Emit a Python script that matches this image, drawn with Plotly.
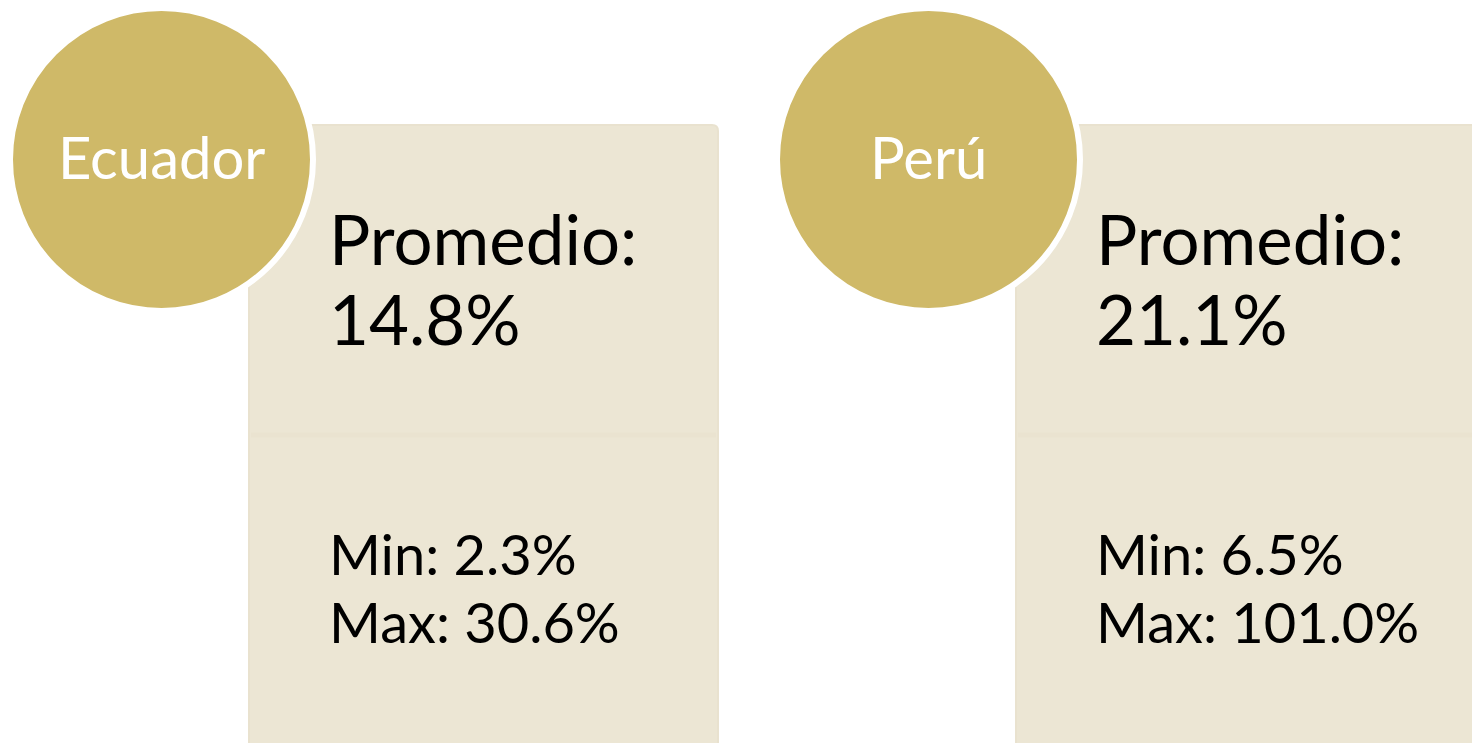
import plotly.graph_objects as go

countries = ["Ecuador", "Perú"]
promedio = ["14.8%", "21.1%"]
minimo = ["2.3%", "6.5%"]
maximo = ["30.6%", "101.0%"]

W, H = 1472, 743
panel_dx = 767
circle_col = "#CFB968"
box_col = "#ECE6D4"
font_fam = "Lato, 'Open Sans', sans-serif"

fig = go.Figure()
shapes = []
annotations = []
for i, c in enumerate(countries):
    ox = i * panel_dx
    # box
    x0, x1, y0, y1 = ox + 249, ox + 718, 125, 760
    r = 6
    path = (f"M {x0},{y0} L {x1-r},{y0} Q {x1},{y0} {x1},{y0+r} "
            f"L {x1},{y1} L {x0},{y1} Z")
    shapes.append(dict(type="path", path=path, fillcolor=box_col,
                       line=dict(color="#E9E2CF", width=2), layer="below"))
    # divider
    shapes.append(dict(type="line", x0=x0 + 2, x1=x1 - 2, y0=435, y1=435,
                       line=dict(color="#EAE3D0", width=5), layer="below"))
    # circle
    cx, cy, rad = ox + 161.5, 159.5, 148.5
    shapes.append(dict(type="circle", x0=cx - rad - 3, x1=cx + rad + 3,
                       y0=cy - rad - 3, y1=cy + rad + 3,
                       fillcolor=circle_col, line=dict(color="white", width=6)))
    annotations.append(dict(x=cx, y=156, text=c, showarrow=False,
                            xanchor="center", yanchor="middle",
                            font=dict(family=font_fam, size=58, color="white")))
    tx = ox + 327
    annotations.append(dict(x=tx, y=238, text="Promedio:", showarrow=False,
                            xanchor="left", yanchor="middle",
                            font=dict(family=font_fam, size=69, color="black")))
    annotations.append(dict(x=tx, y=318, text=promedio[i], showarrow=False,
                            xanchor="left", yanchor="middle",
                            font=dict(family=font_fam, size=69, color="black")))
    annotations.append(dict(x=tx, y=553, text=f"Min: {minimo[i]}", showarrow=False,
                            xanchor="left", yanchor="middle",
                            font=dict(family=font_fam, size=56, color="black")))
    annotations.append(dict(x=tx, y=621, text=f"Max: {maximo[i]}", showarrow=False,
                            xanchor="left", yanchor="middle",
                            font=dict(family=font_fam, size=56, color="black")))

fig.update_layout(
    width=W, height=H,
    margin=dict(l=0, r=0, t=0, b=0),
    paper_bgcolor="white", plot_bgcolor="white",
    xaxis=dict(range=[0, W], visible=False, fixedrange=True),
    yaxis=dict(range=[H, 0], visible=False, fixedrange=True),
    shapes=shapes, annotations=annotations, showlegend=False,
)
fig.write_html("out.html", config={"displayModeBar": False},
               post_script="document.body.style.margin='0';document.body.style.overflow='hidden';")
